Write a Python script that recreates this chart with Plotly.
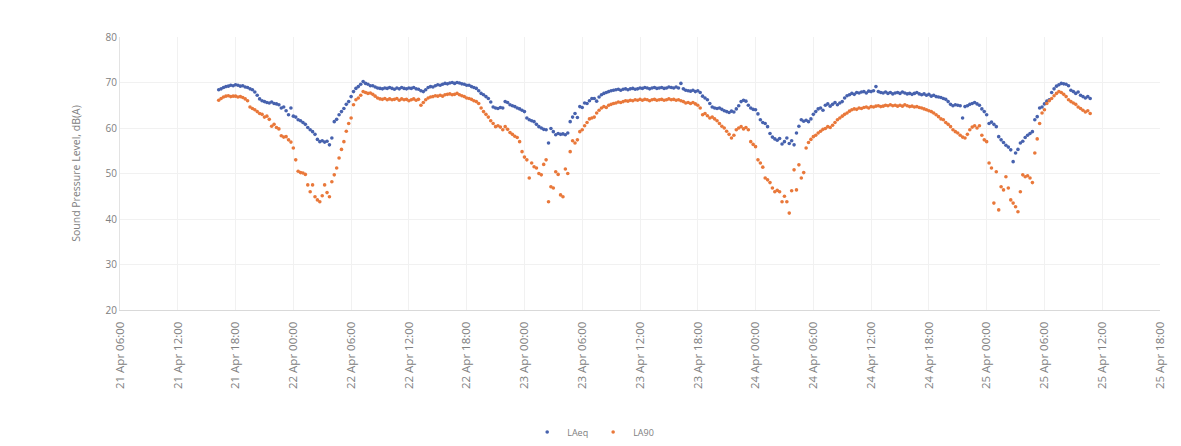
import pandas as pd
import plotly.graph_objects as go

# 15-minute noise levels, dB(A); each row of four covers one hour (:15, :30, :45, :00)
laeq_21apr = [
    68.4, 68.6, 68.9, 69.1,  69.2, 69.4, 69.3, 69.5,  69.4, 69.2, 69.3, 69.0,  68.9, 68.6, 68.4, 67.9,
    67.2, 66.4, 66.0, 65.8,  65.6, 65.5, 65.7, 65.4,  65.3, 65.1, 64.4, 64.6,  63.8, 62.9, 64.4, 62.6,
]
laeq_22apr = [
    62.4, 61.8, 61.6, 61.2,  60.8, 60.1, 59.6, 59.2,  58.6, 57.5, 57.0, 57.2,  56.9, 57.1, 56.3, 57.8,
    61.4, 61.9, 62.9, 63.6,  64.3, 65.2, 65.8, 66.9,  68.0, 68.7, 69.1, 69.6,  70.2, 69.8, 69.6, 69.3,
    69.3, 69.0, 68.8, 68.7,  68.6, 68.8, 68.7, 68.9,  68.7, 68.5, 68.8, 68.6,  68.9, 68.7, 68.6, 68.8,
    68.7, 68.9, 68.6, 68.5,  68.2, 68.0, 68.4, 68.9,  69.1, 69.0, 69.3, 69.5,  69.4, 69.6, 69.8, 69.7,
    69.9, 70.0, 69.8, 70.0,  69.9, 69.7, 69.6, 69.4,  69.4, 69.1, 68.9, 68.7,  68.2, 67.6, 67.3, 66.9,
    66.5, 65.7, 64.6, 64.4,  64.3, 64.5, 64.4, 65.8,  65.6, 65.1, 64.9, 64.7,  64.4, 64.2, 63.9, 63.6,
]
laeq_23apr = [
    62.2, 61.8, 61.6, 61.4,  60.8, 60.3, 60.0, 59.7,  59.6, 56.7, 59.9, 59.2,  58.5, 58.8, 58.6, 58.7,
    58.5, 58.9, 61.4, 62.4,  63.2, 62.3, 64.7, 64.5,  65.5, 65.4, 66.0, 66.5,  66.5, 65.9, 66.8, 67.3,
    67.6, 67.8, 68.0, 68.2,  68.3, 68.4, 68.5, 68.3,  68.5, 68.6, 68.4, 68.6,  68.7, 68.5, 68.6, 68.8,
    68.7, 68.9, 68.8, 68.6,  68.8, 68.9, 68.7, 68.8,  68.9, 68.7, 68.8, 69.0,  68.9, 68.8, 69.0, 68.8,
    69.8, 68.6, 68.3, 68.2,  68.1, 68.3, 68.0, 68.2,  67.8, 67.0, 66.6, 66.2,  65.4, 64.6, 64.4, 64.3,
    64.4, 64.1, 63.8, 63.6,  63.4, 63.7, 63.5, 64.2,  64.9, 65.8, 66.1, 65.9,  65.0, 64.4, 64.1, 64.0,
]
laeq_24apr = [
    63.1, 61.8, 61.2, 61.0,  60.3, 58.8, 58.0, 57.6,  57.3, 57.7, 56.5, 57.0,  57.8, 56.6, 57.2, 56.3,
    58.9, 60.4, 61.8, 61.5,  61.7, 61.4, 62.0, 63.0,  63.6, 64.2, 64.4, 63.9,  65.0, 65.3, 64.8, 65.2,
    65.6, 65.1, 65.5, 65.8,  66.6, 67.1, 67.3, 67.6,  67.4, 67.8, 67.7, 67.9,  68.0, 67.7, 68.1, 68.0,
    68.2, 69.1, 68.0, 67.8,  67.7, 67.9, 67.6, 67.8,  67.5, 67.7, 67.8, 67.6,  67.9, 67.7, 67.5, 67.6,
    67.4, 67.6, 67.8, 67.5,  67.3, 67.5, 67.2, 67.4,  67.0, 67.2, 66.9, 66.8,  66.7, 66.5, 66.3, 65.8,
    65.2, 64.9, 65.1, 65.0,  64.9, 62.2, 64.7, 64.9,  65.2, 65.4, 65.6, 65.3,  65.0, 64.2, 63.6, 62.9,
]
laeq_25apr = [
    61.0, 61.3, 60.8, 60.3,  58.1, 57.4, 56.8, 56.2,  55.8, 55.2, 52.6, 54.5,  55.3, 56.7, 57.1, 57.9,
    58.4, 58.8, 59.2, 61.8,  62.5, 64.4, 64.6, 65.3,  65.9, 66.2, 67.8, 68.6,  69.2, 69.5, 69.8, 69.7,
    69.6, 69.3, 68.3, 68.0,  67.6, 67.9, 67.2, 66.9,  66.6, 66.9, 66.5,
]

la90_21apr = [
    66.1, 66.5, 66.8, 67.0,  67.1, 66.9, 67.0, 67.0,  66.8, 66.9, 66.7, 66.4,  66.0, 64.6, 64.3, 64.0,
    63.6, 63.2, 63.0, 62.4,  62.6, 61.9, 60.4, 60.8,  60.1, 59.8, 58.3, 58.0,  58.1, 57.4, 56.9, 55.6,
]
la90_22apr = [
    53.0, 50.5, 50.2, 50.1,  49.8, 47.5, 46.0, 47.5,  44.9, 44.2, 43.8, 45.1,  47.5, 45.8, 44.9, 48.2,
    49.7, 51.2, 53.4, 55.3,  57.0, 59.3, 61.0, 62.2,  65.1, 66.2, 66.6, 67.2,  68.0, 67.8, 67.6, 67.7,
    67.4, 67.0, 66.6, 66.4,  66.3, 66.5, 66.2, 66.4,  66.2, 66.3, 66.5, 66.1,  66.4, 66.2, 66.3, 66.0,
    66.2, 66.4, 66.1, 66.3,  65.0, 65.6, 66.2, 66.6,  66.8, 66.9, 67.1, 67.0,  67.2, 67.0, 67.3, 67.4,
    67.5, 67.3, 67.4, 67.6,  67.3, 67.1, 66.9, 66.6,  66.5, 66.3, 66.0, 65.8,  65.4, 64.4, 63.6, 63.0,
    62.4, 61.6, 61.0, 60.3,  60.5, 60.2, 59.6, 60.3,  59.7, 59.0, 58.6, 58.2,  57.9, 57.0, 54.8, 53.6,
]
la90_23apr = [
    53.0, 49.0, 52.3, 51.5,  51.2, 50.0, 49.7, 52.0,  53.0, 43.8, 47.1, 46.8,  50.4, 49.8, 45.3, 44.9,
    51.0, 50.0, 54.8, 57.2,  56.7, 57.4, 59.2, 59.6,  60.5, 61.2, 62.0, 62.2,  62.4, 63.3, 63.9, 64.4,
    64.7, 64.5, 65.0, 65.2,  65.4, 65.5, 65.7, 65.6,  65.8, 66.0, 65.9, 66.1,  66.0, 66.2, 66.1, 66.3,
    66.1, 66.3, 66.2, 66.0,  66.2, 66.3, 66.1, 66.2,  66.3, 66.1, 66.2, 66.4,  66.2, 66.3, 66.1, 66.2,
    66.0, 65.8, 65.5, 65.6,  65.4, 65.6, 65.3, 65.0,  64.4, 62.9, 63.2, 62.7,  62.2, 62.4, 62.0, 61.6,
    61.0, 60.4, 60.0, 59.3,  58.6, 57.8, 58.4, 59.6,  60.0, 60.3, 59.8, 60.1,  59.6, 57.0, 56.4, 55.9,
]
la90_24apr = [
    53.0, 52.3, 51.4, 49.0,  48.6, 48.0, 46.8, 46.0,  46.3, 46.0, 43.8, 45.0,  43.8, 41.3, 46.2, 50.8,
    46.4, 51.9, 49.0, 50.2,  55.6, 56.8, 57.5, 58.1,  58.4, 58.9, 59.3, 59.7,  59.9, 60.3, 60.1, 60.6,
    61.2, 61.8, 62.2, 62.6,  63.0, 63.3, 63.7, 64.0,  64.2, 64.1, 64.4, 64.3,  64.5, 64.6, 64.4, 64.7,
    64.6, 64.8, 64.9, 64.7,  64.8, 65.0, 64.9, 65.1,  64.9, 65.0, 64.8, 65.0,  64.8, 65.1, 64.9, 64.7,
    64.8, 64.6, 64.7, 64.5,  64.4, 64.2, 64.0, 63.8,  63.6, 63.3, 62.9, 62.5,  62.0, 61.8, 61.2, 60.8,
    60.3, 59.6, 59.2, 58.9,  58.4, 58.0, 57.8, 58.6,  59.6, 60.2, 60.5, 60.0,  60.5, 58.4, 57.4, 57.0,
]
la90_25apr = [
    52.3, 51.2, 43.5, 50.4,  42.0, 47.1, 46.4, 49.3,  46.8, 44.2, 43.5, 42.7,  41.6, 46.0, 49.7, 49.3,
    49.5, 49.0, 48.0, 54.5,  57.6, 61.0, 63.3, 64.0,  65.4, 66.0, 66.5, 67.1,  67.6, 68.0, 67.8, 67.4,
    66.9, 66.2, 65.8, 65.5,  65.2, 64.6, 64.3, 63.9,  63.5, 63.8, 63.2,
]

series_names = ["LAeq", "LA90"]
series_colors = ["#4762AE", "#E9783A"]
y_ticks = [20, 30, 40, 50, 60, 70, 80]
x_start, x_end = "2021-04-21 06:00", "2021-04-25 18:00"

laeq = laeq_21apr + laeq_22apr + laeq_23apr + laeq_24apr + laeq_25apr
la90 = la90_21apr + la90_22apr + la90_23apr + la90_24apr + la90_25apr
times = pd.date_range("2021-04-21 16:15", periods=len(laeq), freq="15min")

x_ticks = pd.date_range(x_start, x_end, freq="6h")
x_ticktext = [t.strftime("%d %b %H:%M") for t in x_ticks]

fig = go.Figure()
for name, values, color in zip(series_names, [laeq, la90], series_colors):
    fig.add_trace(go.Scatter(
        x=times, y=values, mode="markers", name=name,
        marker=dict(size=3.6, color=color, line=dict(width=0)),
    ))

text_grey = "#808080"
base_font = dict(family="Open Sans, Liberation Sans, sans-serif", size=10, color=text_grey)

fig.update_layout(
    width=1181, height=446,
    margin=dict(l=120, r=21, t=37, b=136, autoexpand=False),
    paper_bgcolor="white", plot_bgcolor="white",
    font=base_font,
    showlegend=True,
    legend=dict(
        orientation="h", x=0.455, y=-0.447, xanchor="center", yanchor="middle",
        font=dict(size=9, color=text_grey), itemwidth=30, itemsizing="trace",
        tracegroupgap=0,
    ),
    xaxis=dict(
        type="date", range=[x_start, x_end], automargin=False,
        tickmode="array", tickvals=x_ticks, ticktext=x_ticktext,
        tickangle=-90, tickfont=dict(size=11.5, color=text_grey),
        showgrid=True, gridcolor="#f1f1f1", gridwidth=1,
        showline=True, linecolor="#d9d9d9", linewidth=1,
        ticks="", ticklabelstandoff=6, zeroline=False,
    ),
    yaxis=dict(
        range=[20, 80], tickmode="array", tickvals=y_ticks, automargin=False,
        tickfont=dict(size=10, color=text_grey),
        showgrid=True, gridcolor="#f1f1f1", gridwidth=1,
        showline=True, linecolor="#e3e3e3", linewidth=1,
        ticks="", zeroline=False,
        title=dict(text="Sound Pressure Level, dB(A)", font=dict(size=10.5, color=text_grey), standoff=22),
    ),
)

fig.write_html("out.html")
